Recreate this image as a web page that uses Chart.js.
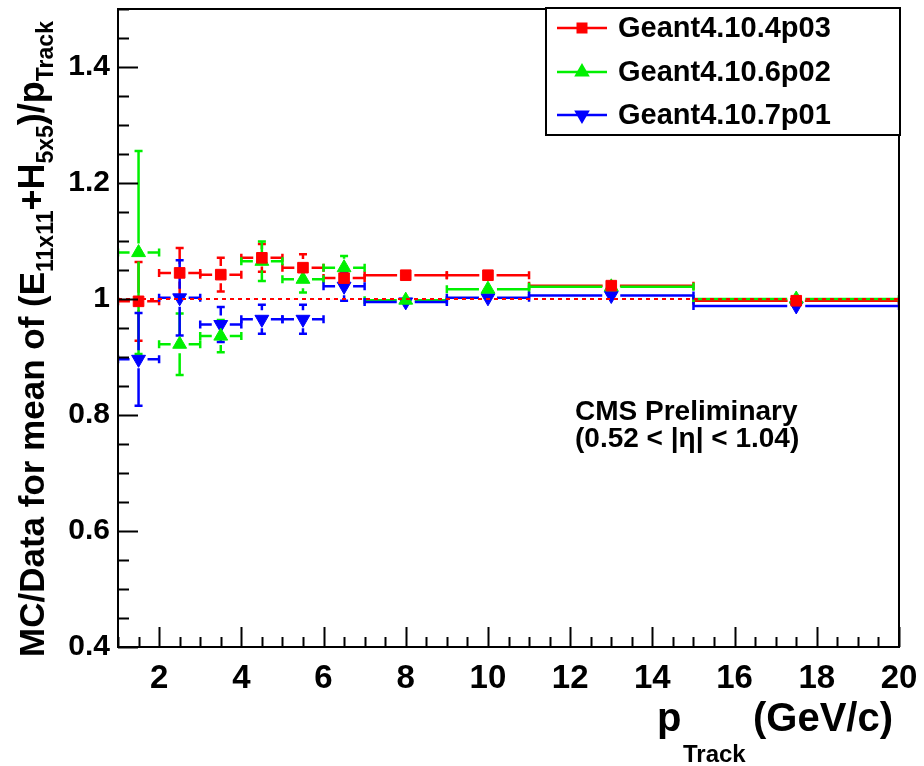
<!DOCTYPE html>
<html><head><meta charset="utf-8">
<script src="https://cdn.jsdelivr.net/npm/chart.js@4.4.1/dist/chart.umd.min.js"></script>
<style>html,body{margin:0;padding:0;background:#fff;}#wrap{width:924px;height:766px;}</style>
</head><body><div id="wrap"><canvas id="c" width="924" height="766"></canvas></div>
<script>
// ---- data ----
const binEdges = [1, 2, 3, 4, 5, 6, 7, 9, 11, 15, 20];
const seriesNames = ['Geant4.10.4p03', 'Geant4.10.6p02', 'Geant4.10.7p01'];
const v4p03 = [0.996, 1.045, 1.042, 1.071, 1.054, 1.036, 1.041, 1.041, 1.023, 0.997];
const e4p03 = [0.068, 0.043, 0.029, 0.024, 0.023, 0.015, 0.006, 0.006, 0.005, 0.004];
const v6p02 = [1.080, 0.922, 0.936, 1.065, 1.034, 1.054, 0.998, 1.017, 1.021, 1.000];
const e6p02 = [0.175, 0.053, 0.028, 0.034, 0.023, 0.020, 0.006, 0.006, 0.005, 0.004];
const v7p01 = [0.896, 1.002, 0.956, 0.965, 0.965, 1.022, 0.995, 1.002, 1.006, 0.988];
const e7p01 = [0.080, 0.065, 0.030, 0.025, 0.025, 0.025, 0.006, 0.006, 0.005, 0.004];
const refValue = 1;
const yTickValues = [0.4, 0.6, 0.8, 1.0, 1.2, 1.4];
const yTickLabels = ['0.4', '0.6', '0.8', '1', '1.2', '1.4'];
const xTickValues = [2, 4, 6, 8, 10, 12, 14, 16, 18, 20];
const xTickLabels = ['2', '4', '6', '8', '10', '12', '14', '16', '18', '20'];
const yRange = [0.4, 1.5];
const xRange = [1, 20];
const cmsText = ['CMS Preliminary', '(0.52 < |\u03b7| < 1.04)'];

// ---- helpers ----
const FAM = "'Liberation Sans', Arial, Helvetica, sans-serif";
const centers = binEdges.slice(0, -1).map((e, i) => (e + binEdges[i + 1]) / 2);
const pts = vals => vals.map((v, i) => ({x: centers[i], y: v}));

function mkSeries(label, vals, errs, color, style, rot) {
  return {type: 'scatter', label, data: pts(vals), errY: errs, borderColor: color, backgroundColor: color,
    pointStyle: style, pointRadius: style === 'rect' ? 7.5 : 8, pointRotation: rot, pointBorderWidth: 1,
    pointHoverRadius: style === 'rect' ? 7.5 : 8, order: 1};
}
const datasets = [
  mkSeries(seriesNames[0], v4p03, e4p03, '#ff0000', 'rect', 0),
  mkSeries(seriesNames[1], v6p02, e6p02, '#00f000', 'triangle', 0),
  mkSeries(seriesNames[2], v7p01, e7p01, '#0000ff', 'triangle', 180),
  {type: 'line', label: 'ref', data: [{x: xRange[0], y: refValue}, {x: xRange[1], y: refValue}],
   borderColor: '#ff0000', borderWidth: 2, borderDash: [4, 4], pointRadius: 0, order: 0}
];

function drawRich(ctx, segs) {
  let x = 0;
  segs.forEach(s => {
    ctx.font = 'bold ' + s.size + 'px ' + FAM;
    ctx.fillText(s.t, x, s.dy || 0);
    x += ctx.measureText(s.t).width;
  });
}
function drawMarker(ctx, style, x, y, r, rot) {
  Chart.helpers.drawPoint(ctx, {pointStyle: style, radius: r, rotation: rot, borderWidth: 1}, x, y);
}

const errPlugin = {
  id: 'errbars',
  beforeDatasetsDraw(chart) {
    const {ctx, chartArea: ca, scales: {x, y}} = chart;
    ctx.save();
    ctx.beginPath(); ctx.rect(ca.left, ca.top, ca.right - ca.left, ca.bottom - ca.top); ctx.clip();
    chart.data.datasets.forEach(ds => {
      if (!ds.errY) return;
      ctx.strokeStyle = ds.borderColor; ctx.lineWidth = 2.5;
      ds.data.forEach((p, j) => {
        const cx = x.getPixelForValue(p.x), cy = y.getPixelForValue(p.y);
        const xl = x.getPixelForValue(binEdges[j]), xr = x.getPixelForValue(binEdges[j + 1]);
        const yt = y.getPixelForValue(p.y + ds.errY[j]), yb = y.getPixelForValue(p.y - ds.errY[j]);
        const g = ds.pointRadius * 0.75 + 3, c = 4;
        ctx.beginPath();
        ctx.moveTo(xl, cy); ctx.lineTo(cx - g, cy);
        ctx.moveTo(cx + g, cy); ctx.lineTo(xr, cy);
        ctx.moveTo(xl, cy - c); ctx.lineTo(xl, cy + c);
        ctx.moveTo(xr, cy - c); ctx.lineTo(xr, cy + c);
        if (cy - g > yt) { ctx.moveTo(cx, yt); ctx.lineTo(cx, cy - g); ctx.moveTo(cx - c, yt); ctx.lineTo(cx + c, yt); }
        if (yb > cy + g) { ctx.moveTo(cx, cy + g); ctx.lineTo(cx, yb); ctx.moveTo(cx - c, yb); ctx.lineTo(cx + c, yb); }
        ctx.stroke();
      });
    });
    ctx.restore();
  },
  afterDraw(chart) {
    const {ctx, chartArea: ca, scales: {x, y}} = chart;
    ctx.save();
    // frame
    ctx.strokeStyle = '#000'; ctx.lineWidth = 2;
    ctx.strokeRect(ca.left, ca.top, ca.right - ca.left, ca.bottom - ca.top);
    // inward ticks
    ctx.beginPath();
    for (let k = 0; yRange[0] + k * 0.05 <= yRange[1] + 1e-9; k++) {
      const v = yRange[0] + k * 0.05, py = Math.round(y.getPixelForValue(v)) + 0.5;
      const len = (k % 4 === 0) ? 20 : 11;
      ctx.moveTo(ca.left, py); ctx.lineTo(ca.left + len, py);
    }
    for (let k = 0; xRange[0] + k * 0.5 <= xRange[1] + 1e-9; k++) {
      const v = xRange[0] + k * 0.5, px = Math.round(x.getPixelForValue(v)) + 0.5;
      const len = (Math.abs(v % 2) < 1e-9) ? 20 : 10;
      ctx.moveTo(px, ca.bottom); ctx.lineTo(px, ca.bottom - len);
    }
    ctx.stroke();

    ctx.fillStyle = '#000'; ctx.textBaseline = 'alphabetic'; ctx.textAlign = 'left';
    // x title
    ctx.font = 'bold 40px ' + FAM; ctx.fillText('p', 657, 731);
    ctx.font = 'bold 24px ' + FAM; ctx.fillText('Track', 683, 762);
    ctx.font = 'bold 40px ' + FAM; ctx.fillText('(GeV/c)', 753, 731);
    // y title
    ctx.save(); ctx.translate(44, 657); ctx.rotate(-Math.PI / 2);
    drawRich(ctx, [
      {t: 'MC/Data for mean of (E', size: 35},
      {t: '11x11', size: 23, dy: 9},
      {t: '+H', size: 36},
      {t: '5x5', size: 23, dy: 9},
      {t: ')/p', size: 36},
      {t: 'Track', size: 23, dy: 9}
    ]);
    ctx.restore();
    // CMS text
    ctx.font = 'bold 28px ' + FAM;
    ctx.fillText(cmsText[0], 575, 420);
    ctx.fillText(cmsText[1], 575, 447);
    // legend
    const lx0 = 546, ly0 = 8, lx1 = 900, ly1 = 135;
    ctx.fillStyle = '#fff'; ctx.fillRect(lx0, ly0, lx1 - lx0, ly1 - ly0);
    ctx.strokeStyle = '#000'; ctx.lineWidth = 2; ctx.strokeRect(lx0, ly0, lx1 - lx0, ly1 - ly0);
    const rows = [28, 72, 115];
    chart.data.datasets.slice(0, 3).forEach((ds, i) => {
      const ry = rows[i];
      ctx.strokeStyle = ds.borderColor; ctx.fillStyle = ds.borderColor; ctx.lineWidth = 2.5;
      ctx.beginPath(); ctx.moveTo(557, ry); ctx.lineTo(607, ry); ctx.stroke();
      drawMarker(ctx, ds.pointStyle, 582, ry, ds.pointStyle === 'rect' ? 6 : 6.5, ds.pointRotation);
      ctx.fillStyle = '#000'; ctx.font = 'bold 29px ' + FAM; ctx.textBaseline = 'middle';
      ctx.fillText(ds.label, 618, ry + 1);
    });
    ctx.restore();
  }
};

new Chart(document.getElementById('c'), {
  data: {datasets},
  options: {
    responsive: false, animation: false, devicePixelRatio: 1,
    layout: {padding: {top: 8, right: 25, left: 0, bottom: 0}},
    plugins: {legend: {display: false}, tooltip: {enabled: false}},
    scales: {
      x: {type: 'linear', min: xRange[0], max: xRange[1],
        grid: {display: false, drawTicks: false}, border: {display: false},
        afterFit: s => { s.height = 766 - 647; s.paddingLeft = 0; s.paddingRight = 0; },
        afterBuildTicks: s => { s.ticks = xTickValues.map(v => ({value: v})); },
        ticks: {autoSkip: false, maxRotation: 0, padding: 12, color: '#000',
          callback: (v, i) => xTickLabels[i], font: {family: FAM, size: 33, weight: 'bold'}}},
      y: {type: 'linear', min: yRange[0], max: yRange[1],
        grid: {display: false, drawTicks: false}, border: {display: false},
        afterFit: s => { s.width = 118; s.paddingTop = 0; s.paddingBottom = 0; },
        afterBuildTicks: s => { s.ticks = yTickValues.map(v => ({value: v})); },
        ticks: {autoSkip: false, padding: 8, color: '#000',
          callback: (v, i) => yTickLabels[i], font: {family: FAM, size: 30, weight: 'bold'}}}
    }
  },
  plugins: [errPlugin]
});
</script></body></html>
